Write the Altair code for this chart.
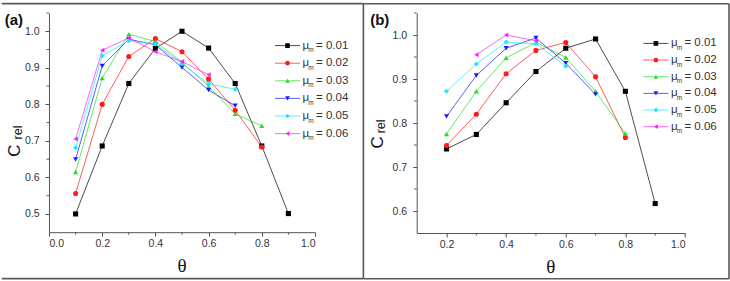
import altair as alt
import pandas as pd

# series: mobility values mu_m and their styles
mu_labels = ["0.01", "0.02", "0.03", "0.04", "0.05", "0.06"]
mu_colors = ["#000000", "#ff1a1a", "#22e022", "#1a1aff", "#1ae8ff", "#ff22ff"]
mu_shapes = ["square", "circle", "triangle-up", "triangle-down", "diamond", "triangle-left"]

# panel (a): relative C versus theta
theta_a = [0.1, 0.2, 0.3, 0.4, 0.5, 0.6, 0.7, 0.8, 0.9]
a_mu001 = [0.500, 0.686, 0.857, 0.953, 1.000, 0.954, 0.857, 0.686, 0.501]
a_mu002 = [0.556, 0.800, 0.931, 0.980, 0.944, 0.869, 0.784, 0.683]
a_mu003 = [0.615, 0.872, 0.992, 0.972, 0.915, 0.849, 0.774, 0.741]
a_mu004 = [0.649, 0.905, 0.978, 0.963, 0.901, 0.839, 0.796]
a_mu005 = [0.681, 0.933, 0.974, 0.965, 0.911, 0.856, 0.841]
a_mu006 = [0.705, 0.948, 0.982, 0.944, 0.917, 0.881]

# panel (b)
theta_b = [0.2, 0.3, 0.4, 0.5, 0.6, 0.7, 0.8, 0.9]
theta_b_mu006 = [0.3, 0.4, 0.5]
b_mu001 = [0.741, 0.774, 0.846, 0.917, 0.970, 0.991, 0.872, 0.617]
b_mu002 = [0.749, 0.820, 0.912, 0.965, 0.983, 0.905, 0.767]
b_mu003 = [0.775, 0.872, 0.948, 0.983, 0.949, 0.872, 0.776]
b_mu004 = [0.815, 0.908, 0.970, 0.993, 0.936, 0.865]
b_mu005 = [0.872, 0.934, 0.984, 0.980, 0.929]
b_mu006 = [0.955, 1.000, 0.987]

# axis ticks
a_xticks = [0.0, 0.2, 0.4, 0.6, 0.8, 1.0]
a_xminor = [0.1, 0.3, 0.5, 0.7, 0.9]
a_yticks = [0.5, 0.6, 0.7, 0.8, 0.9, 1.0]
a_yminor = [0.55, 0.65, 0.75, 0.85, 0.95, 1.05]
b_xticks = [0.2, 0.4, 0.6, 0.8, 1.0]
b_xminor = [0.3, 0.5, 0.7, 0.9]
b_yticks = [0.6, 0.7, 0.8, 0.9, 1.0]
b_yminor = [0.65, 0.75, 0.85, 0.95, 1.05]

AX = "#555555"
FRAME = "#5a5a5a"
TXT = "#333333"
SANS = "Liberation Sans"

color_scale = alt.Scale(domain=mu_labels, range=mu_colors)
shape_scale = alt.Scale(domain=mu_labels, range=mu_shapes)


def long_table(thetas, values):
    rows = []
    for mu, th, vals in zip(mu_labels, thetas, values):
        for t, v in zip(th, vals):
            rows.append({"theta": t, "crel": v, "mu": mu})
    return pd.DataFrame(rows)


def one(text):
    return pd.DataFrame({"t": [text]})


def panel(df, tag, w, h, xdom, ydom, xt, xm, yt, ym, geo):
    xs = alt.Scale(domain=xdom, nice=False, zero=False)
    ys = alt.Scale(domain=ydom, nice=False, zero=False)
    xaxis = alt.Axis(values=xt, format=".1f", title=None)
    yaxis = alt.Axis(values=yt, format=".1f", title=None)

    base = alt.Chart(df).encode(
        x=alt.X("theta:Q", scale=xs, axis=xaxis),
        y=alt.Y("crel:Q", scale=ys, axis=yaxis),
        color=alt.Color("mu:N", scale=color_scale, legend=None),
    )
    lines = base.mark_line(strokeWidth=1, opacity=0.7)
    pts = base.mark_point(filled=True, size=26, opacity=1).encode(
        shape=alt.Shape("mu:N", scale=shape_scale, legend=None)
    )
    xminor = alt.Chart(pd.DataFrame({"t": xm})).mark_rule(color=AX, strokeWidth=1).encode(
        x=alt.X("t:Q", scale=xs, axis=xaxis), y=alt.value(h), y2=alt.value(h + 2.5)
    )
    yminor = alt.Chart(pd.DataFrame({"t": ym})).mark_rule(color=AX, strokeWidth=1).encode(
        y=alt.Y("t:Q", scale=ys, axis=yaxis), x=alt.value(0), x2=alt.value(-2.5)
    )
    data_layer = alt.layer(lines, pts, xminor, yminor)

    # legend rows
    leg = pd.DataFrame({
        "mu": mu_labels,
        "row": list(range(len(mu_labels))),
        "eq": ["= " + m for m in mu_labels],
    })
    ly = alt.Y("row:Q", scale=alt.Scale(domain=[0, 5], range=geo["leg_y"]), axis=None)
    lx0 = geo["leg_x"]
    leg_line = alt.Chart(leg).mark_rule(strokeWidth=1, opacity=0.7).encode(
        x=alt.value(lx0), x2=alt.value(lx0 + 25), y=ly,
        color=alt.Color("mu:N", scale=color_scale, legend=None),
    )
    leg_pt = alt.Chart(leg).mark_point(filled=True, size=22, opacity=1).encode(
        x=alt.value(lx0 + 12.5), y=ly,
        color=alt.Color("mu:N", scale=color_scale, legend=None),
        shape=alt.Shape("mu:N", scale=shape_scale, legend=None),
    )
    leg_mu = alt.Chart(leg).mark_text(text="\u03bc", align="left", baseline="middle",
                                      font=SANS, fontSize=11.5, color=TXT).encode(
        x=alt.value(lx0 + 27.5), y=ly)
    leg_sub = alt.Chart(leg).mark_text(text="m", align="left", baseline="middle",
                                       font=SANS, fontSize=6.5, color=TXT, dy=4.5).encode(
        x=alt.value(lx0 + 33.3), y=ly)
    leg_eq = alt.Chart(leg).mark_text(align="left", baseline="middle",
                                      font=SANS, fontSize=11.5, color=TXT).encode(
        x=alt.value(lx0 + 41.0), y=ly, text="eq:N")
    legend_layer = alt.layer(leg_line, leg_pt, leg_mu, leg_sub, leg_eq)

    # panel tag, axis titles
    tag_txt = alt.Chart(one(tag)).mark_text(align="left", baseline="middle", font=SANS,
                                            fontSize=15, fontWeight="bold", color="#111").encode(
        x=alt.value(geo["tag"][0]), y=alt.value(geo["tag"][1]), text="t:N")
    c_txt = alt.Chart(one("C")).mark_text(align="center", baseline="middle", font=SANS,
                                          fontSize=17, color="#111", angle=270).encode(
        x=alt.value(geo["c"][0]), y=alt.value(geo["c"][1]), text="t:N")
    rel_txt = alt.Chart(one("rel")).mark_text(align="center", baseline="middle", font=SANS,
                                              fontSize=12.5, color="#111", angle=270).encode(
        x=alt.value(geo["rel"][0]), y=alt.value(geo["rel"][1]), text="t:N")
    th_txt = alt.Chart(one("\u03b8")).mark_text(align="center", baseline="middle",
                                                font="Liberation Serif", fontSize=19, color="#111").encode(
        x=alt.value(w / 2), y=alt.value(geo["theta_y"]), text="t:N")

    # enclosing frame lines
    fx0, fx1 = geo["frame_x"]
    fy0, fy1 = geo["frame_y"]
    frame = []
    for x0, x1, y0, y1 in [(fx0, fx1, fy0, fy0), (fx0, fx1, fy1, fy1)] + \
            [(vx, vx, fy0, fy1) for vx in geo["frame_v"]]:
        frame.append(alt.Chart(one("")).mark_rule(color=FRAME, strokeWidth=1.6).encode(
            x=alt.value(x0), x2=alt.value(x1), y=alt.value(y0), y2=alt.value(y1)))

    deco = alt.layer(tag_txt, c_txt, rel_txt, th_txt, *frame)

    return alt.layer(data_layer, legend_layer, deco).resolve_scale(y="independent").properties(
        width=w, height=h)


df_a = long_table([theta_a] * 6, [a_mu001, a_mu002, a_mu003, a_mu004, a_mu005, a_mu006])
df_b = long_table([theta_b] * 5 + [theta_b_mu006],
                  [b_mu001, b_mu002, b_mu003, b_mu004, b_mu005, b_mu006])

WA, HA = 266, 219.2
WB, HB = 268.3, 220

geo_a = {
    "leg_y": [32.6, 120.6], "leg_x": 226.0,
    "tag": [-44.3, 7.0], "c": [-33.6, 137.6], "rel": [-30.8, 119.5],
    "theta_y": 252.6,
    "frame_x": [-47.3, 314.4], "frame_y": [-9.4, 265.6], "frame_v": [314.4],
}
geo_b = {
    "leg_y": [30.4, 113.7], "leg_x": 226.7,
    "tag": [-46.5, 7.2], "c": [-38.3, 129.4], "rel": [-35.8, 113.4],
    "theta_y": 254.2,
    "frame_x": [-53.3, 312.3], "frame_y": [-9.3, 265.7], "frame_v": [312.3],
}

pa = panel(df_a, "(a)", WA, HA, [0.0, 1.0], [0.45, 1.05],
           a_xticks, a_xminor, a_yticks, a_yminor, geo_a)
pb = panel(df_b, "(b)", WB, HB, [0.1, 1.0], [0.55, 1.05],
           b_xticks, b_xminor, b_yticks, b_yminor, geo_b)

chart = alt.hconcat(pa, pb, spacing=101.7, bounds="flush").properties(
    padding={"left": 0, "top": 2, "right": 0, "bottom": 0}
).configure_view(stroke=None).configure_axis(
    domainColor=AX, tickColor=AX, labelColor=TXT, labelFont=SANS, labelFontSize=10.5,
    grid=False, tickSize=4, domainWidth=1, tickWidth=1,
).configure_axisX(labelPadding=2).configure_axisY(labelPadding=6)

chart.save("out.html", embed_options={"renderer": "svg", "actions": False})
